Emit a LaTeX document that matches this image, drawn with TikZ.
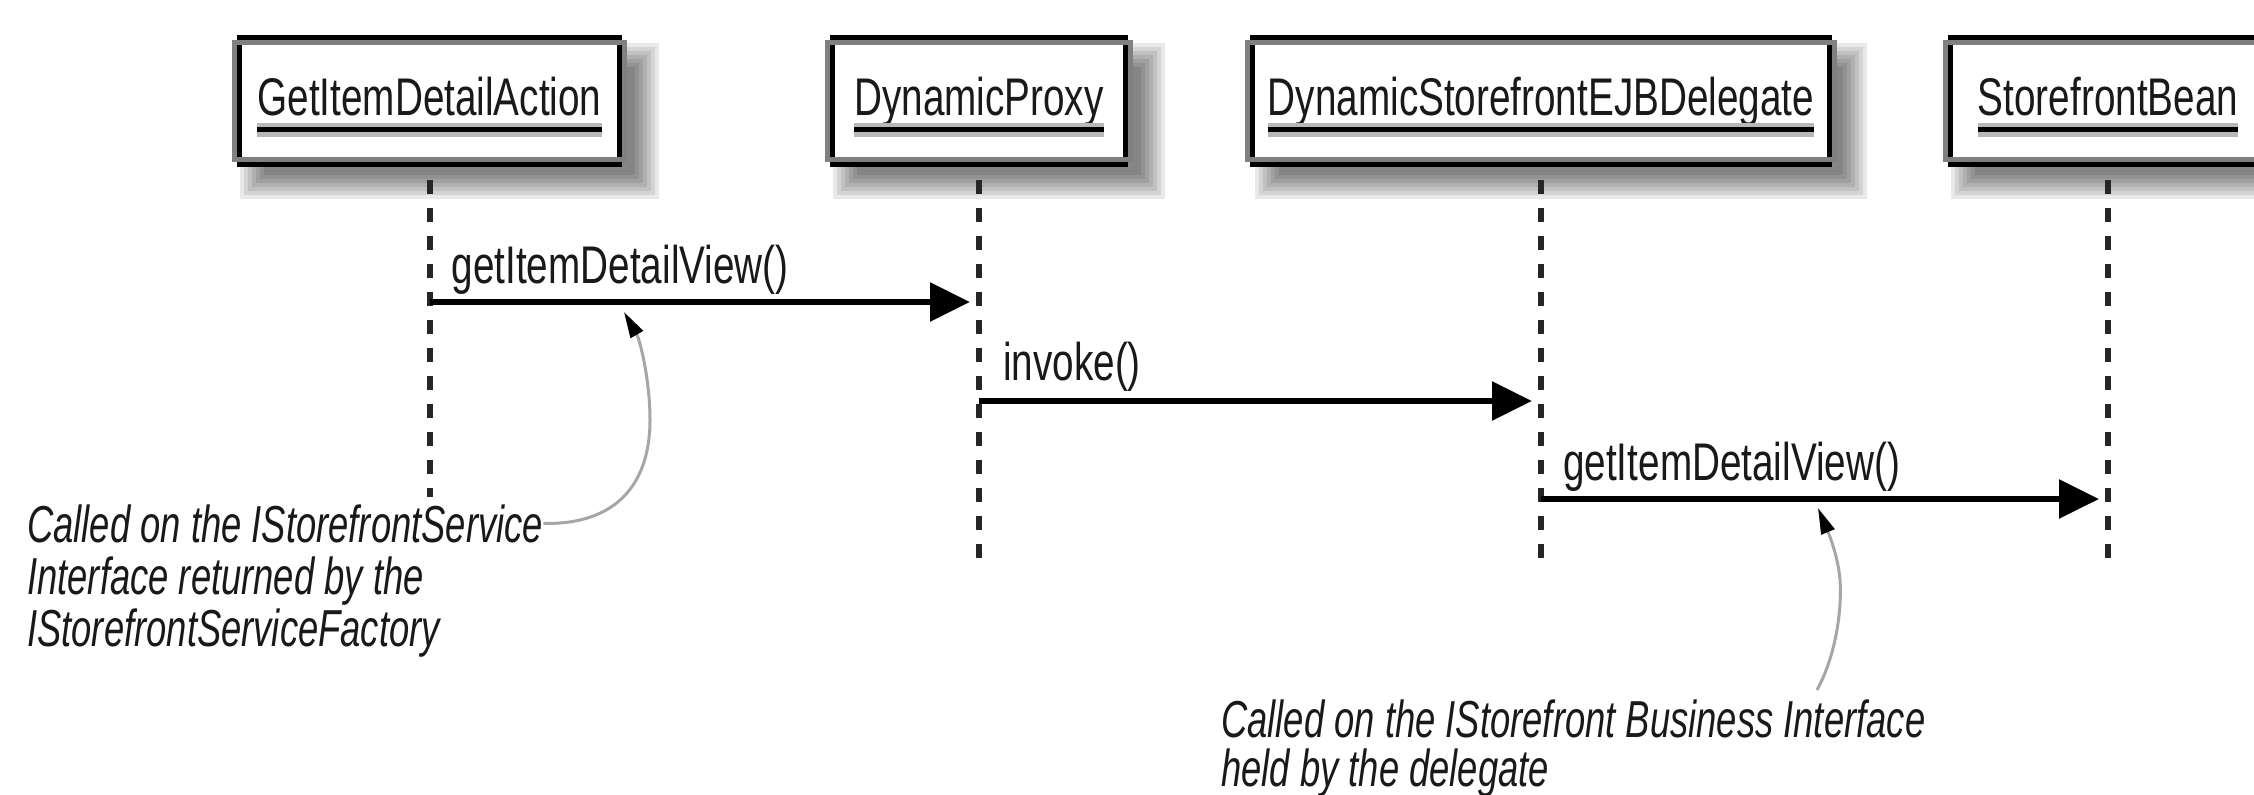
\documentclass[tikz,border=0pt]{standalone}
\usepackage{fontspec}
\usetikzlibrary{arrows.meta}
\newfontfamily\namefont[FakeStretch=0.73]{Liberation Sans}
\newfontfamily\commentfont[FakeStretch=0.70]{Liberation Sans}

\tikzset{
  objframe/.style={draw=black, line width=5pt, fill=white, inner sep=0pt, outer sep=0pt},
  objband/.style={draw=black!50, line width=5pt},
  objname/.style={font=\namefont\fontsize{53}{60}\selectfont, text=black!90, inner sep=0pt, anchor=base},
  nameline/.style={line width=5pt, draw=black, preaction={draw=black!28, line width=14pt}},
  lifeline/.style={line width=6pt, draw=black!85, dash pattern=on 14pt off 14pt},
  message/.style={line width=6pt, draw=black, -{Triangle[length=40pt, width=38pt]}},
  msglabel/.style={font=\namefont\fontsize{53}{60}\selectfont, text=black!90, inner sep=0pt, anchor=base west},
  notetext/.style={font=\commentfont\itshape\fontsize{52}{60}\selectfont, text=black!90, inner sep=0pt, anchor=base west},
  callout/.style={draw=black!35, line width=3pt, -{Triangle[length=26pt, width=14pt, color=black]}},
}

% soft drop shadow under a box given by its outer corners
\newcommand{\softshadow}[4]{%
  \foreach \r in {-12,-8,-4,0,4,8,12}{%
    \fill[black, opacity=0.085] ({#1+20-\r},{#2+20-\r}) rectangle ({#3+20+\r},{#4+20+\r});
  }%
}

\begin{document}
\begin{tikzpicture}[x=1pt, y=-1pt]
  \useasboundingbox (0,0) rectangle (2254,795);
  \clip (0,0) rectangle (2254,795);
  \fill[white] (0,0) rectangle (2254,795);

  % shadows
  \softshadow{232}{35}{627}{167}
  \softshadow{825}{35}{1133}{167}
  \softshadow{1247}{35}{1835}{167}
  \softshadow{1943}{35}{2273}{167}

  % object boxes
  \node[objframe, minimum width=380pt, minimum height=127pt] (b1) at (429.5,101) {};
  \node[objframe, minimum width=293pt, minimum height=127pt] (b2) at (979,101) {};
  \node[objframe, minimum width=577pt, minimum height=127pt] (b3) at (1541,101) {};
  \node[objframe, minimum width=315pt, minimum height=127pt] (b4) at (2108,101) {};
  \foreach \b in {b1,b2,b3,b4}{
    \draw[objband] ([xshift=-5pt,yshift=-5pt]\b.north west) rectangle ([xshift=5pt,yshift=5pt]\b.south east);
  }

  % object names, underlined
  \node[objname] (n1) at (b1.center |- 0,115) {GetItemDetailAction};
  \node[objname] (n2) at (b2.center |- 0,115) {DynamicProxy};
  \node[objname] (n3) at (b3.center |- 0,115) {DynamicStorefrontEJBDelegate};
  \node[objname] (n4) at (b4.center |- 0,115) {StorefrontBean};
  \foreach \n in {n1,n2,n3,n4}{
    \draw[nameline] ([yshift=-14.5pt]\n.base west) -- ([yshift=-14.5pt]\n.base east);
  }

  % lifelines
  \coordinate (e1) at (b1.center |- 0,497);
  \coordinate (e2) at (b2.center |- 0,558);
  \coordinate (e3) at (b3.center |- 0,558);
  \coordinate (e4) at (b4.center |- 0,558);
  \draw[lifeline] ([yshift=-15.5pt]b1.south) -- (e1);
  \draw[lifeline] ([yshift=-15.5pt]b2.south) -- (e2);
  \draw[lifeline] ([yshift=-15.5pt]b3.south) -- (e3);
  \draw[lifeline] ([yshift=-15.5pt]b4.south) -- (e4);

  % messages
  \path (b1.center |- 0,302) coordinate (m1a) (b2.center |- 0,302) coordinate (m1b);
  \path (b2.center |- 0,401) coordinate (m2a) (b3.center |- 0,401) coordinate (m2b);
  \path (b3.center |- 0,499) coordinate (m3a) (b4.center |- 0,499) coordinate (m3b);
  \draw[message] (m1a) -- ([xshift=-9pt]m1b);
  \draw[message] (m2a) -- ([xshift=-9pt]m2b);
  \draw[message] (m3a) -- ([xshift=-9pt]m3b);
  \node[msglabel] (l1) at ([xshift=22pt,yshift=19pt]m1a) {getItemDetailView()};
  \node[msglabel] (l2) at ([xshift=24pt,yshift=21pt]m2a) {invoke()};
  \node[msglabel] (l3) at ([xshift=22pt,yshift=19pt]m3a) {getItemDetailView()};

  % notes
  \node[notetext] (c1a) at (27,542) {Called on the IStorefrontService};
  \node[notetext] (c1b) at (27,594) {Interface returned by the};
  \node[notetext] (c1c) at (27,646) {IStorefrontServiceFactory};
  \node[notetext] (c2a) at (1221,737) {Called on the IStorefront Business Interface};
  \node[notetext] (c2b) at (1221,786) {held by the delegate};

  % callouts
  \coordinate (t1) at (624,312);
  \draw[callout] (c1a.east) .. controls (620,525) and (650,480) .. (650,420)
                 .. controls (650,380) and (640,340) .. (t1);
  \coordinate (s2) at (1817,690);
  \coordinate (t2) at (1818,508);
  \draw[callout] (s2) .. controls (1836,655) and (1842,610) .. (1840,580)
                 .. controls (1838,555) and (1828,532) .. (t2);
\end{tikzpicture}
\end{document}
